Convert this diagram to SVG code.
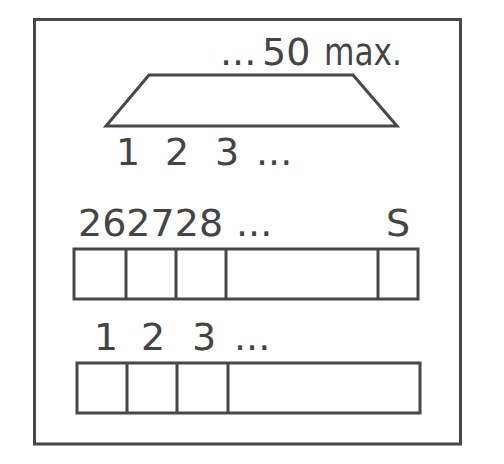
<svg xmlns="http://www.w3.org/2000/svg" width="504" height="464" viewBox="0 0 504 464">
<style>
.ln{fill:none;stroke:#474747;stroke-width:3;stroke-linejoin:miter}
.t{font-family:"DejaVu Sans",sans-serif;font-size:38px;fill:#444}
</style>
<rect width="504" height="464" fill="#fff"/>
<g id="frame"><rect class="ln" x="34.5" y="19.5" width="426" height="424.5"/></g>
<g id="connector-top">
<path class="ln" d="M149 75 L353 75 L397 126 L106 126 Z"/>
<text class="t" y="65"><tspan x="220">...</tspan><tspan x="262">50</tspan><tspan x="324" textLength="78" lengthAdjust="spacingAndGlyphs">max.</tspan></text>
<text class="t" y="165"><tspan x="116">1</tspan><tspan x="165">2</tspan><tspan x="215">3</tspan><tspan x="256">...</tspan></text>
</g>
<g id="strip-upper">
<rect class="ln" x="74" y="249" width="344" height="50"/>
<path class="ln" d="M126 249V299M176 249V299M226 249V299M378 249V299"/>
<text class="t" y="236"><tspan x="78">262728</tspan><tspan x="236">...</tspan></text>
<text class="t" x="386" y="236">S</text>
</g>
<g id="strip-lower">
<rect class="ln" x="77" y="363" width="343" height="50"/>
<path class="ln" d="M127 363V413M177 363V413M228 363V413"/>
<text class="t" y="350"><tspan x="94">1</tspan><tspan x="141">2</tspan><tspan x="192">3</tspan><tspan x="234">...</tspan></text>
</g>
</svg>
